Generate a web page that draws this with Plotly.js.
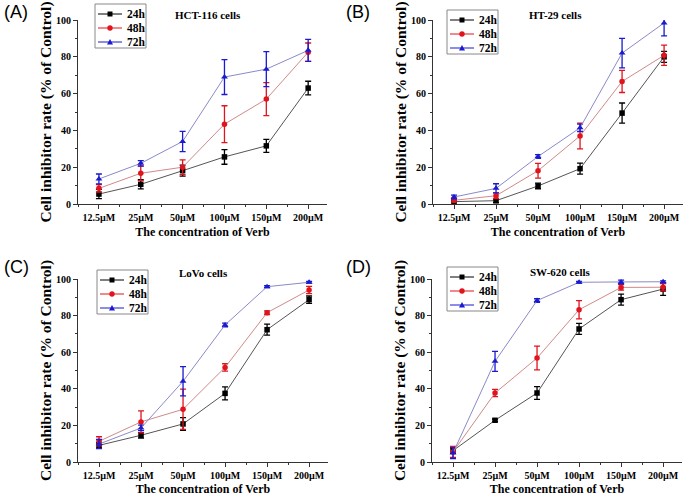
<!DOCTYPE html>
<html><head><meta charset="utf-8">
<script src="https://cdn.plot.ly/plotly-3.0.1.min.js"></script>
<style>html,body{margin:0;padding:0;background:#fff}#chart{width:685px;height:496px}</style>
</head><body><div id="chart"></div>
<script>
const categories = ["12.5µM","25µM","50µM","100µM","150µM","200µM"];
const seriesNames = ["24h","48h","72h"];
const panelLabels = ["(A)","(B)","(C)","(D)"];
const panelTitles = ["HCT-116 cells","HT-29 cells","LoVo cells","SW-620 cells"];
const yTicks = [0,20,40,60,80,100];

// Panel A: HCT-116
const hct24 = [5.4,10.7,18.1,25.6,31.6,63.0];
const hct24Err = [2.5,2.5,3.0,4.0,3.5,3.7];
const hct48 = [8.5,16.7,20.0,43.4,57.0,82.5];
const hct48Err = [2.0,4.0,4.0,10.0,9.0,5.0];
const hct72 = [13.6,22.1,34.0,69.0,73.3,83.5];
const hct72Err = [2.7,1.5,5.5,9.5,9.5,6.0];
// Panel B: HT-29
const ht24 = [1.3,1.8,9.8,19.2,49.4,80.0];
const ht24Err = [0.5,1.0,1.5,3.0,5.5,3.0];
const ht48 = [2.0,4.5,18.1,37.0,66.6,80.8];
const ht48Err = [1.0,1.5,4.0,7.0,6.0,5.5];
const ht72 = [3.8,8.5,25.8,41.4,82.0,98.4];
const ht72Err = [1.0,2.5,1.0,2.0,8.0,7.0];
// Panel C: LoVo
const lovo24 = [9.1,14.6,20.8,37.5,72.3,88.7];
const lovo24Err = [1.5,1.5,3.5,3.5,3.0,2.0];
const lovo48 = [11.3,21.9,28.8,51.7,81.6,94.0];
const lovo48Err = [2.5,6.0,11.0,2.0,1.0,2.0];
const lovo72 = [9.8,18.6,44.1,74.9,95.8,98.2];
const lovo72Err = [2.5,1.5,8.0,1.0,0.5,0.5];
// Panel D: SW-620
const sw24 = [6.2,22.8,37.7,72.7,88.7,94.5];
const sw24Err = [1.5,0.7,3.5,3.0,3.0,3.5];
const sw48 = [5.5,37.7,56.8,83.2,95.4,95.5];
const sw48Err = [3.0,2.0,6.5,5.0,1.5,2.0];
const sw72 = [4.9,55.0,88.2,98.2,98.4,98.5];
const sw72Err = [3.0,5.5,1.0,0.5,1.0,0.5];

const panels = [
  [[hct24,hct24Err],[hct48,hct48Err],[hct72,hct72Err]],
  [[ht24,ht24Err],[ht48,ht48Err],[ht72,ht72Err]],
  [[lovo24,lovo24Err],[lovo48,lovo48Err],[lovo72,lovo72Err]],
  [[sw24,sw24Err],[sw48,sw48Err],[sw72,sw72Err]]
];

const W = 685, H = 496;
const markerColors = ["#000000","#e0141c","#1a1ad0"];
const lineColors = ["#555555","#d08a8a","#8a8ac8"];
const symbols = ["square","circle","triangle-up"];
const serif = "Liberation Serif, Times New Roman, serif";

// pixel geometry of each plot area [left,right,top,bottom]
const boxes = [[78,327,20,204],[433,683,20,204],[78,328,279,462],[432,682,279,462]];
const legendPos = [[95,4],[447,10],[97,270],[447,267]];
const titlePos = [[208,15],[555,15],[203,273],[560,272]];
const labelPos = [[2,12],[344,12],[2,267],[344,267]];

const px = v => v/W, py = v => 1 - v/H;
const xIdx = categories.map((c,i)=>i);
const data = [];
const layout = {
  width: W, height: H, margin:{l:0,r:0,t:0,b:0},
  paper_bgcolor:"#fff", plot_bgcolor:"#fff",
  font:{family:serif, color:"#000"},
  showlegend:false, annotations:[], shapes:[]
};

panels.forEach((panel,p)=>{
  const sfx = p===0 ? "" : String(p+1);
  panel.forEach((s,k)=>{
    data.push({
      type:"scatter", mode:"lines+markers",
      x:xIdx, y:s[0], name:seriesNames[k],
      xaxis:"x"+sfx, yaxis:"y"+sfx,
      line:{color:lineColors[k], width:1},
      marker:{color:markerColors[k], symbol:symbols[k], size:k===2?6:5.5},
      error_y:{type:"data", array:s[1], visible:true, color:markerColors[k], thickness:1.3, width:3},
      cliponaxis:false
    });
  });
  const b = boxes[p];
  layout["xaxis"+sfx] = {
    domain:[px(b[0]), px(b[1])], anchor:"y"+sfx,
    range:[-0.5,5.45], tickmode:"array", tickvals:xIdx, ticktext:categories,
    ticks:"outside", ticklen:4, tickwidth:1, tickcolor:"#333",
    minor:{tickmode:"linear", tick0:0.5, dtick:1, ticks:"outside", ticklen:2, tickcolor:"#333"},
    showline:true, linecolor:"#333", linewidth:1, showgrid:false, zeroline:false,
    tickfont:{family:serif, size:10, weight:"bold"},
    title:{text:"The concentration of Verb", font:{family:serif, size:12, weight:"bold"}, standoff:5},
    fixedrange:true
  };
  layout["yaxis"+sfx] = {
    domain:[py(b[3]), py(b[2])], anchor:"x"+sfx,
    range:[0,100], tickmode:"array", tickvals:yTicks,
    ticks:"outside", ticklen:4, tickwidth:1, tickcolor:"#333",
    minor:{tickmode:"linear", tick0:10, dtick:20, ticks:"outside", ticklen:2, tickcolor:"#333"},
    showline:true, linecolor:"#333", linewidth:1, showgrid:false, zeroline:false,
    tickfont:{family:serif, size:10, weight:"bold"},
    title:{text:"Cell inhibitor rate (% of Control)", font:{family:serif, size:15.5, weight:"bold"}, standoff:0},
    fixedrange:true
  };
  // hand-drawn compact legend box
  const lp = legendPos[p];
  const lx = lp[0], ly = lp[1];
  layout.shapes.push({type:"rect", xref:"paper", yref:"paper",
    x0:px(lx), x1:px(lx+51), y0:py(ly), y1:py(ly+44), line:{color:"#888", width:1}});
  seriesNames.forEach((nm,k)=>{
    const cy = ly + 10 + 14*k;
    layout.shapes.push({type:"line", xref:"paper", yref:"paper",
      x0:px(lx+3), x1:px(lx+27), y0:py(cy), y1:py(cy), line:{color:markerColors[k], width:1}});
    const mx = lx+15;
    if (k===0) {
      layout.shapes.push({type:"rect", xref:"paper", yref:"paper",
        x0:px(mx-2.5), x1:px(mx+2.5), y0:py(cy+2.5), y1:py(cy-2.5), fillcolor:markerColors[k], line:{width:0}});
    } else if (k===1) {
      layout.shapes.push({type:"circle", xref:"paper", yref:"paper",
        x0:px(mx-2.7), x1:px(mx+2.7), y0:py(cy+2.7), y1:py(cy-2.7), fillcolor:markerColors[k], line:{width:0}});
    } else {
      layout.shapes.push({type:"path", xref:"paper", yref:"paper",
        path:`M ${px(mx-3)} ${py(cy+2.5)} L ${px(mx+3)} ${py(cy+2.5)} L ${px(mx)} ${py(cy-3)} Z`,
        fillcolor:markerColors[k], line:{width:0}});
    }
    layout.annotations.push({xref:"paper", yref:"paper", x:px(lx+30), y:py(cy),
      xanchor:"left", yanchor:"middle", text:nm, showarrow:false,
      font:{family:serif, size:11.5, weight:"bold"}});
  });
  const tp = titlePos[p];
  layout.annotations.push({
    xref:"paper", yref:"paper", x:px(tp[0]), y:py(tp[1]), xanchor:"center", yanchor:"middle",
    text:panelTitles[p], showarrow:false, font:{family:serif, size:11, weight:"bold"}
  });
  const lb = labelPos[p];
  layout.annotations.push({
    xref:"paper", yref:"paper", x:px(lb[0]), y:py(lb[1]), xanchor:"left", yanchor:"middle",
    text:panelLabels[p], showarrow:false, font:{family:"Liberation Sans, Arial, sans-serif", size:18}
  });
});

Plotly.newPlot("chart", data, layout, {staticPlot:true});
</script>
</body></html>
